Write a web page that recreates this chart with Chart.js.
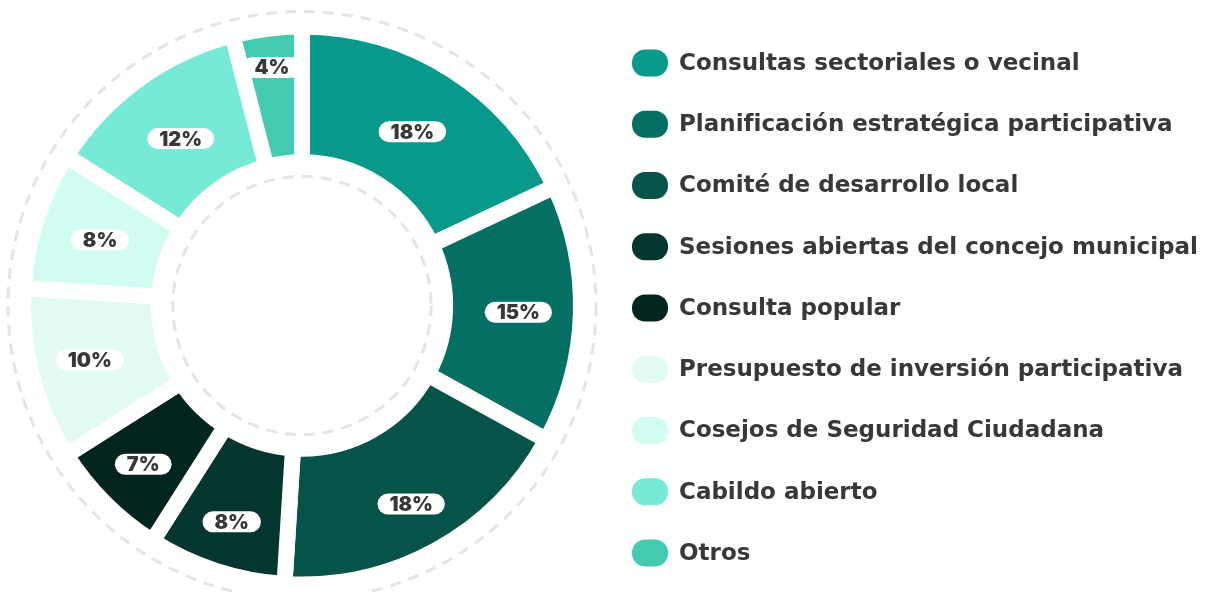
<!DOCTYPE html>
<html lang="es">
<head>
<meta charset="utf-8">
<title>Mecanismos de participación ciudadana</title>
<script src="https://cdn.jsdelivr.net/npm/chart.js@4.4.1/dist/chart.umd.min.js"></script>
<style>
  html, body { margin: 0; padding: 0; background: #ffffff; }
  #wrap { position: relative; width: 1205px; height: 592px; }
</style>
</head>
<body>
<div id="wrap"><canvas id="chart" width="1205" height="592"></canvas></div>
<script>
// Mechanism names, shares (%) and segment colours
const categories = [
  'Consultas sectoriales o vecinal',
  'Planificación estratégica participativa',
  'Comité de desarrollo local',
  'Sesiones abiertas del concejo municipal',
  'Consulta popular',
  'Presupuesto de inversión participativa',
  'Cosejos de Seguridad Ciudadana',
  'Cabildo abierto',
  'Otros'
];
const shares = [18, 15, 18, 8, 7, 10, 8, 12, 4];
const segmentColors = [
  '#08998b', '#066f64', '#06534a', '#04352f', '#02241f',
  '#e2faf4', '#d1fcf1', '#76ead6', '#43cbb1'
];

const LABEL_FONT = '900 20px Inter, "DejaVu Sans", sans-serif';
const LEGEND_FONT = 'bold 23px "DejaVu Sans", sans-serif';
const TEXT_COLOR = '#383838';

// Light dashed rings around and inside the doughnut
const dashedRings = {
  id: 'dashedRings',
  beforeDatasetsDraw(chart) {
    const arc = chart.getDatasetMeta(0).data[0];
    if (!arc) return;
    const { x, y, outerRadius, innerRadius } = arc.getProps(['x', 'y', 'outerRadius', 'innerRadius'], true);
    const ctx = chart.ctx;
    ctx.save();
    ctx.strokeStyle = '#e4e4e4';
    ctx.lineWidth = 3;
    ctx.setLineDash([11, 8]);
    ctx.lineCap = 'butt';
    [outerRadius + 15, innerRadius - 14].forEach(r => {
      ctx.beginPath();
      ctx.arc(x, y, r, 0, Math.PI * 2);
      ctx.stroke();
    });
    ctx.restore();
  }
};

// White pill with the percentage on every segment; lower pills sit a little
// further out, thin slices get theirs near the rim
const pillLabels = {
  id: 'pillLabels',
  afterDatasetsDraw(chart) {
    const meta = chart.getDatasetMeta(0);
    const values = chart.data.datasets[0].data;
    const ctx = chart.ctx;
    ctx.save();
    ctx.font = LABEL_FONT;
    ctx.textAlign = 'center';
    ctx.textBaseline = 'middle';
    meta.data.forEach((arc, i) => {
      const p = arc.getProps(['x', 'y', 'startAngle', 'endAngle', 'innerRadius', 'outerRadius'], true);
      const mid = (p.startAngle + p.endAngle) / 2;
      const thin = (p.endAngle - p.startAngle) < 0.3;
      const r = thin
        ? p.outerRadius - 39
        : (p.innerRadius + p.outerRadius) / 2 + 5 + 12 * Math.sin(mid);
      const cx = p.x + Math.cos(mid) * r;
      const cy = p.y + Math.sin(mid) * r;
      const text = values[i] + '%';
      const w = ctx.measureText(text).width + 24;
      const h = 21;
      ctx.fillStyle = '#ffffff';
      ctx.beginPath();
      ctx.roundRect(cx - w / 2, cy - h / 2, w, h, h / 2);
      ctx.fill();
      ctx.fillStyle = TEXT_COLOR;
      ctx.fillText(text, cx, cy + 1);
    });
    ctx.restore();
  }
};

// Legend column on the right: rounded swatch + name
const sideLegend = {
  id: 'sideLegend',
  afterDraw(chart) {
    const ctx = chart.ctx;
    const names = chart.data.labels;
    const colors = chart.data.datasets[0].backgroundColor;
    const firstY = 63, step = 61.25;
    ctx.save();
    ctx.font = LEGEND_FONT;
    ctx.textAlign = 'left';
    ctx.textBaseline = 'middle';
    names.forEach((name, i) => {
      const cy = firstY + i * step;
      ctx.fillStyle = colors[i];
      ctx.beginPath();
      ctx.roundRect(632, cy - 13.5, 36, 27, 13);
      ctx.fill();
      ctx.fillStyle = TEXT_COLOR;
      ctx.fillText(name, 679, cy + 1);
    });
    ctx.restore();
  }
};

new Chart(document.getElementById('chart'), {
  type: 'doughnut',
  data: {
    labels: categories,
    datasets: [{
      data: shares,
      backgroundColor: segmentColors,
      borderColor: '#ffffff',
      borderWidth: 16,
      hoverOffset: 0
    }]
  },
  options: {
    responsive: false,
    animation: false,
    radius: 279,
    cutout: '51.3%',
    layout: { padding: { left: 0, right: 601, top: 19, bottom: 0 } },
    plugins: {
      legend: { display: false },
      tooltip: { enabled: false }
    }
  },
  plugins: [dashedRings, pillLabels, sideLegend]
});
</script>
</body>
</html>
